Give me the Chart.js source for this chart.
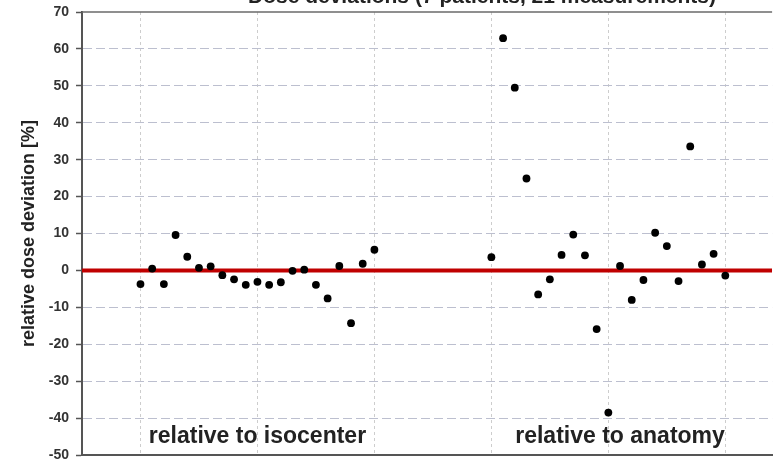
<!DOCTYPE html>
<html>
<head>
<meta charset="utf-8">
<script src="https://cdn.jsdelivr.net/npm/chart.js@4.4.1/dist/chart.umd.min.js"></script>
<style>
  html, body { margin: 0; padding: 0; background: #fff; }
  #wrap { position: relative; width: 776px; height: 459px; overflow: hidden; }
  #c { position: absolute; left: 0; top: -20px; }
</style>
</head>
<body>
<div id="wrap"><canvas id="c" width="776" height="500"></canvas></div>
<script>
// Chart texts
const chartTitle = 'Dose deviations (7 patients, 21 measurements)';
const yAxisTitle = 'relative dose deviation [%]';
const groupLabels = ['relative to isocenter', 'relative to anatomy'];
const groupCenters = [15, 46];

// Measurement positions along the x axis
const isocenterPos = [5, 6, 7, 8, 9, 10, 11, 12, 13, 14, 15, 16, 17, 18, 19, 20, 21, 22, 23, 24, 25];
const anatomyPos   = [35, 36, 37, 38, 39, 40, 41, 42, 43, 44, 45, 46, 47, 48, 49, 50, 51, 52, 53, 54, 55];

// Relative dose deviation [%]
const isocenterDev = [-3.7, 0.5, -3.7, 9.6, 3.7, 0.7, 1.1, -1.3, -2.4, -3.9, -3.1, -3.9, -3.2, -0.1, 0.2, -3.9, -7.6, 1.2, -14.3, 1.8, 5.6];
const anatomyDev   = [3.6, 62.9, 49.5, 24.9, -6.5, -2.4, 4.2, 9.7, 4.1, -15.9, -38.5, 1.2, -8.0, -2.6, 10.2, 6.6, -2.9, 33.6, 1.6, 4.5, -1.4];

// Axis settings
const yMin = -50, yMax = 70, yStep = 10;
const xMin = 0, xMax = 59;
const xGridTicks = [5, 15, 25, 35, 45, 55];

const points = isocenterPos.map((x, i) => ({ x, y: isocenterDev[i] }))
  .concat(anatomyPos.map((x, i) => ({ x, y: anatomyDev[i] })));

const FONT = 'Arial, "Liberation Sans", Helvetica, sans-serif';

const decorations = {
  id: 'decorations',
  afterDatasetsDraw(chart) {
    const { ctx, chartArea, scales } = chart;
    ctx.save();
    // top frame line
    ctx.strokeStyle = '#6a6a6a';
    ctx.lineWidth = 1.5;
    ctx.beginPath();
    ctx.moveTo(chartArea.left, chartArea.top);
    ctx.lineTo(chartArea.right, chartArea.top);
    ctx.stroke();
    // group labels
    ctx.fillStyle = '#222';
    ctx.font = 'bold 23px ' + FONT;
    ctx.textAlign = 'center';
    ctx.textBaseline = 'alphabetic';
    groupLabels.forEach((t, i) => {
      ctx.fillText(t, scales.x.getPixelForValue(groupCenters[i]), chartArea.bottom - 12);
    });
    // chart title
    ctx.font = 'bold 21px ' + FONT;
    ctx.fillText(chartTitle, 482, 23);
    ctx.restore();
  }
};

new Chart(document.getElementById('c'), {
  type: 'scatter',
  data: {
    datasets: [
      {
        label: 'deviation',
        data: points,
        backgroundColor: '#000',
        borderColor: '#000',
        pointRadius: 3.9,
        pointHoverRadius: 3.9,
        borderWidth: 0,
        order: 0
      },
      {
        type: 'line',
        label: 'zero',
        data: [{ x: xMin, y: 0 }, { x: xMax, y: 0 }],
        borderColor: '#c00000',
        borderWidth: 4,
        pointRadius: 0,
        order: 1
      }
    ]
  },
  options: {
    responsive: false,
    animation: false,
    devicePixelRatio: 1,
    layout: { padding: { top: 32, bottom: 25, left: 0, right: 0 } },
    plugins: { legend: { display: false }, tooltip: { enabled: false }, title: { display: false } },
    scales: {
      x: {
        type: 'linear',
        min: xMin,
        max: xMax,
        afterBuildTicks(scale) { scale.ticks = xGridTicks.map(v => ({ value: v })); },
        afterFit(scale) { scale.height = 0; },
        ticks: { display: false },
        grid: { color: '#cdcdcd', lineWidth: 1, drawTicks: false },
        border: { display: true, color: '#555', width: 2, dash: [3, 3] }
      },
      y: {
        min: yMin,
        max: yMax,
        afterFit(scale) { scale.width = 82; },
        ticks: {
          stepSize: yStep,
          padding: 7,
          color: '#333',
          font: { family: FONT, size: 14, weight: 'bold' }
        },
        grid: {
          color: (c) => (c.tick && (c.tick.value === yMax || c.tick.value === yMin)) ? 'rgba(0,0,0,0)' : '#bcbfcf',
          lineWidth: 1,
          tickLength: 6,
          tickColor: '#555',
          tickWidth: 1.5
        },
        border: { display: true, color: '#555', width: 2, dash: [9, 4] },
        title: {
          display: true,
          text: yAxisTitle,
          color: '#222',
          font: { family: FONT, size: 18, weight: 'bold' },
          padding: { top: 18, bottom: 0 }
        }
      }
    }
  },
  plugins: [decorations]
});
</script>
</body>
</html>
